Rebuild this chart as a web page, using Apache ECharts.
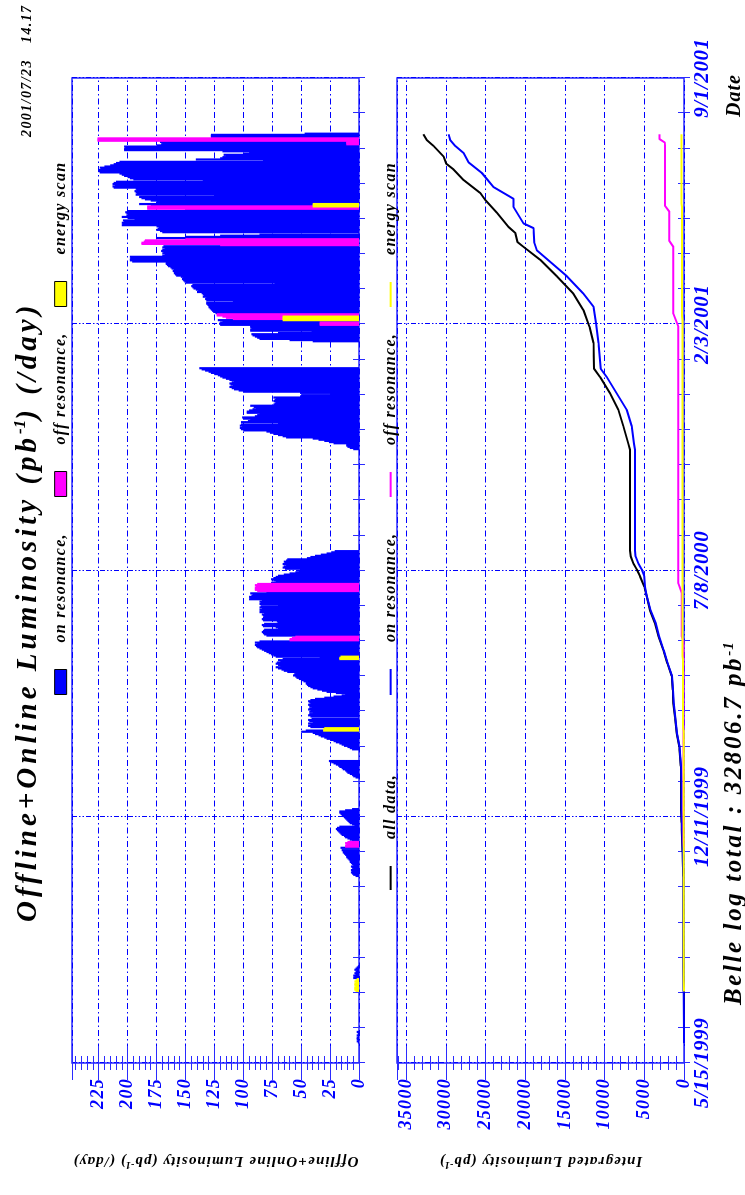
<!DOCTYPE html>
<html>
<head>
<meta charset="utf-8">
<title>Belle luminosity</title>
<script src="https://cdn.jsdelivr.net/npm/echarts/dist/echarts.min.js"></script>
<style>
  html, body { margin: 0; padding: 0; background: #fff; overflow: hidden; width: 745px; height: 1195px; }
  /* the plot is laid out landscape and turned a quarter turn to stand upright */
  #chart { position: absolute; left: 0; top: 0; width: 1195px; height: 745px;
           transform-origin: 0 0; transform: translate(0px, 1195px) rotate(-90deg); }
</style>
</head>
<body>
<div id="chart"></div>
<script>
// ---- date axis: days since 5/15/1999, labelled every 210 days ----
const dateTicks = ['5/15/1999', '12/11/1999', '7/8/2000', '2/3/2001', '9/1/2001'];
const dayStep = 210;

// ---- daily luminosity, on resonance (pb^-1 / day); each run starts at the given day ----
const onResStarts = [17, 72, 159, 243, 267, 523, 614];
const onResRuns = [
  [1, 2, 1, 2, 2, 1, 2, 1, 1, 2],
  [5, 4, 5, 3, 4, 3, 2, 4, 3, 2, 1],
  [3, 5, 6, 7, 6, 7, 5, 6, 7,
   5, 6, 7, 8, 8, 9, 10, 11, 11, 12, 13, 14,
   14, 15, 0, 16,
   0, 0, 0, 0, 0,
   6,
   8, 10, 12, 13, 15, 16, 17, 18, 19, 20, 19, 17,
   4, 6, 8, 9, 10, 11, 12, 13, 14, 15, 16, 17, 17, 12, 6],
  [3, 5, 6, 8, 10, 11, 12, 14, 15, 17, 18, 20, 22, 24, 26],
  [6, 8, 10, 13, 15, 17, 20, 22, 25, 28, 30, 33, 35, 38,
   40, 50, 46, 30, 28, 42, 44,
   42, 44, 40, 43, 44, 41, 0, 42, 44, 43, 40,
   43, 42, 44, 43, 41, 43, 44, 42, 43, 44, 42,
   38, 30, 22, 15, 12, 20, 28, 32, 36, 40, 42, 44, 45, 46,
   46, 48, 50, 52, 54, 55, 57, 56, 55,
   62, 65, 67, 70, 72, 68, 70, 72, 71,
   68, 70, 66, 34, 72,
   74, 76, 78, 80, 82, 84, 86, 88, 89,
   90, 88, 90, 86,
   0, 0, 0, 0,
   80, 82, 83, 84, 83, 82, 70, 72, 83, 84, 82, 70, 71, 83, 84, 83, 82, 83, 84, 82,
   86, 85, 86, 84, 86, 85, 70, 86, 85, 86, 84,
   95, 94, 95, 93, 92, 94,
   80, 78, 75, 74, 72, 73, 74, 75, 76, 72, 74, 76,
   74, 72, 70, 65, 60, 55, 52, 51,
   64, 66, 65, 63, 66, 64, 65, 63, 62,
   45, 42, 38, 33, 28, 24, 21],
  [5, 8, 10, 11, 11,
   22, 26, 30, 35, 40,
   63, 66, 70, 74, 77, 80,
   100, 102, 103, 101, 103, 102, 70,
   102, 96, 94, 100, 101, 90, 88, 86, 97,
   97, 95, 92, 89, 91, 94,
   74, 73, 72, 74, 73, 72, 74,
   51, 50, 25, 51,
   100, 104, 108, 110, 112, 109, 111, 112, 110, 108, 112,
   115, 118, 120, 122, 125, 128, 130, 133, 136, 138],
  [0, 40, 60,
   86, 88, 90, 92, 93, 70,
   41,
   94, 94, 93, 94, 94,
   120, 121, 120, 118, 122,
   0, 0, 0, 0, 0,
   124,
   126, 127, 128, 129, 130, 130, 131,
   132, 132, 109, 132, 133, 132,
   135, 134, 135, 136,
   140, 139, 141,
   143, 144, 145, 144,
   73,
   150, 151, 152, 153, 152, 154,
   158, 159, 160, 160, 161, 160,
   162, 163, 165, 166, 167, 167,
   196, 198, 198, 197, 198,
   170, 168, 170, 169, 171, 170, 168, 170, 169,
   0, 0, 0, 0, 0, 0,
   175, 150, 120, 86,
   0,
   170, 172, 175, 174, 173, 175,
   205, 204, 205, 203, 204, 194, 200, 205,
   201, 200, 201, 202, 200,
   150, 0, 0, 0, 180,
   190, 175,
   175, 180, 185, 188, 190,
   125,
   193, 192, 193, 194, 192, 193,
   212, 213, 211, 213, 212, 210,
   135,
   195, 198, 200, 203, 205, 207,
   224, 225, 225, 223, 224, 220, 215, 212, 210, 207,
   83, 141, 120, 118, 115, 117, 100, 95, 118,
   203, 203, 202, 203, 175,
   171, 170, 172,
   0, 0, 0,
   128, 128, 128, 47]
];

// ---- daily luminosity, off resonance: [day, pb^-1] ----
const offResDaily = [
  [184, 12], [185, 12], [186, 11], [187, 12], [188, 10],
  [360, 60], [361, 60], [362, 58], [363, 55],
  [402, 88], [403, 90], [404, 90], [405, 90], [406, 89], [407, 90], [408, 88],
  [629, 34], [630, 34], [631, 34],
  [634, 109], [635, 115], [636, 118], [637, 123], [638, 123],
  [697, 120], [698, 188], [699, 188], [700, 186], [701, 185], [702, 150],
  [728, 183], [729, 183], [730, 183],
  [783, 11], [784, 11], [785, 11], [786, 226], [787, 226], [788, 226]
];

// ---- daily luminosity, energy scan: [day, pb^-1] ----
const scanDaily = [
  [61, 3], [62, 4], [63, 4], [64, 4], [65, 3], [66, 4], [67, 4], [68, 3], [69, 4], [70, 3], [71, 2],
  [283, 31], [284, 31], [285, 30],
  [344, 17], [345, 17], [346, 16],
  [633, 66], [634, 66], [635, 66], [636, 66],
  [730, 40], [731, 40], [732, 40]
];

// ---- integrated luminosity (pb^-1) at the given day ----
const intAll = [
  [17, 0], [26, 15], [61, 20], [82, 60], [159, 80], [180, 180], [205, 300], [216, 377],
  [238, 377], [253, 420], [270, 587], [281, 920], [295, 1130], [307, 1340], [318, 1425],
  [330, 1550], [341, 2100], [352, 2600], [364, 3230], [375, 3650], [386, 4280], [398, 4700],
  [406, 4990], [415, 5535], [421, 5950], [426, 6370], [432, 6700], [437, 6790], [523, 6790],
  [528, 7000], [543, 7630], [557, 8260], [571, 9310], [585, 10570], [592, 11320], [614, 11400],
  [628, 11910], [642, 12660], [656, 13920], [671, 16020], [685, 18110], [696, 20210],
  [700, 20960], [708, 21260], [713, 22100], [725, 23560], [736, 25030], [742, 25660],
  [753, 27760], [762, 29015], [767, 29940], [773, 30270], [782, 31530], [787, 32370],
  [792, 32806.7]
];
const intOnRes = [
  [17, 0], [26, 15], [82, 50], [159, 60], [216, 330], [238, 330], [253, 380], [270, 560],
  [281, 880], [295, 1100], [307, 1300], [318, 1400], [330, 1520], [341, 2060], [352, 2560],
  [364, 3150], [375, 3560], [386, 4200], [398, 4700], [406, 4905], [415, 4990], [421, 5325],
  [426, 5740], [432, 6100], [437, 6160], [523, 6160], [528, 6290], [543, 6580], [557, 7210],
  [571, 8470], [585, 9730], [592, 10480], [614, 10780], [631, 11070], [645, 11400],
  [656, 12660], [671, 14760], [693, 18530], [700, 18870], [712, 18950], [716, 20210],
  [730, 21470], [737, 21470], [747, 23980], [759, 25450], [768, 27130], [776, 27760],
  [782, 28800], [787, 29430], [792, 29640]
];
const intOffRes = [
  [183, 0], [189, 50], [359, 50], [364, 290], [401, 290], [409, 710], [628, 710],
  [639, 1340], [696, 1340], [701, 1845], [726, 1845], [731, 2390], [782, 2390],
  [785, 2420], [788, 3100], [792, 3100]
];
const intScan = [
  [61, 0], [71, 37], [283, 37], [286, 130], [344, 130], [347, 180], [633, 180],
  [637, 260], [730, 260], [733, 300], [792, 300]
];

// ---- value axis ranges ----
const dailyMax = 248, dailyStep = 25;
const intMax = 36140, intStep = 5000;

// ---- build the bar data (one bar per day, centred in its day) ----
const onResBars = [];
onResStarts.forEach((s, i) => onResRuns[i].forEach((v, k) => onResBars.push([s + k + 0.5, v])));
const offResBars = offResDaily.map(d => [d[0] + 0.5, d[1]]);
const scanBars = scanDaily.map(d => [d[0] + 0.5, d[1]]);

// Wide, loosely tracked lettering: extra letter spacing per font size (px).
const letterGap = { 29: 4.0, 25: 2.6, 21: 0.6, 20: 1.0, 18: 1.3, 16: 1.3, 15: 1.1, 14: 1.4 };
(function () {
  const proto = window.CanvasRenderingContext2D && CanvasRenderingContext2D.prototype;
  if (!proto || !('letterSpacing' in proto)) return;
  const spaced = fn => function () {
    const m = /(\d+(?:\.\d+)?)px/.exec(this.font || '');
    const gap = m ? letterGap[Math.round(parseFloat(m[1]))] : 0;
    this.letterSpacing = (gap || 0) + 'px';
    return fn.apply(this, arguments);
  };
  proto.fillText = spaced(proto.fillText);
  proto.strokeText = spaced(proto.strokeText);
  proto.measureText = spaced(proto.measureText);
})();

const FONT = "'Liberation Serif', 'Times New Roman', serif";
const BLUE = '#0000ff';
const FRAME = '#2b2bff';
const MAGENTA = '#ff00ff';
const YELLOW = '#ffff00';

const labelStyle = { color: BLUE, fontFamily: FONT, fontStyle: 'italic', fontWeight: 'bold' };
const blackText = { color: '#000', fontFamily: FONT, fontStyle: 'italic', fontWeight: 'bold' };
const supStyle = (size) => ({ color: '#000', fontFamily: FONT, fontStyle: 'italic', fontWeight: 'bold',
                               fontSize: size, verticalAlign: 'top' });

function dateAxis(gridIndex, position, withLabels) {
  return {
    type: 'value', gridIndex, position, min: 0, max: dayStep * 4, interval: dayStep,
    axisLine: { show: false },
    axisTick: { show: true, inside: true, length: 6, lineStyle: { color: FRAME, width: 1 } },
    minorTick: { show: true, splitNumber: 7, length: 6, lineStyle: { color: FRAME, width: 1 } },
    splitLine: { show: position === 'bottom',
                 lineStyle: { color: BLUE, width: 1, type: [5, 2, 1.5, 2, 1.5, 2] } },
    axisLabel: { show: withLabels, margin: 8, fontSize: 21, ...labelStyle,
                 formatter: v => dateTicks[Math.round(v / dayStep)] }
  };
}

function valueAxis(gridIndex, position, max, step, name, nameGap) {
  const left = position === 'left';
  return {
    type: 'value', gridIndex, position, min: 0, max, interval: step,
    axisLine: { show: false },
    axisTick: { show: true, inside: true, length: 17, lineStyle: { color: FRAME, width: 1 } },
    minorTick: { show: true, splitNumber: 5, length: 7, lineStyle: { color: FRAME, width: 1 } },
    splitLine: { show: left, lineStyle: { color: BLUE, width: 1, type: [6, 3, 1.5, 3] } },
    axisLabel: { show: left, margin: 15, fontSize: 18, showMaxLabel: false, ...labelStyle,
                 formatter: v => String(v) },
    name: left ? name : '',
    nameLocation: 'middle', nameGap, nameRotate: 90,
    nameTextStyle: { ...blackText, fontSize: 15, rich: { sup: supStyle(10) } }
  };
}

function legendItem(name, left, top, w, h, framed) {
  return {
    data: [name], left, top, itemWidth: w, itemHeight: h, icon: 'rect',
    selectedMode: false, padding: 0,
    itemStyle: framed ? { borderColor: '#000', borderWidth: 1 } : { borderWidth: 0 },
    textStyle: { ...blackText, fontSize: 16, padding: [0, 0, 0, 22] }
  };
}

const option = {
  animation: false,
  backgroundColor: '#fff',
  textStyle: { fontFamily: FONT },
  title: [
    { text: 'Offline+Online Luminosity (pb{sup|-1}) (/day)', left: 268, top: 7,
      textStyle: { ...blackText, fontSize: 29, rich: { sup: supStyle(17) } } },
    { text: '2001/07/23', left: 1053, top: 15, textStyle: { ...blackText, fontSize: 14 } },
    { text: '14.17', left: 1147, top: 15, textStyle: { ...blackText, fontSize: 14 } },
    { text: 'Belle log total : 32806.7 pb{sup|-1}', left: 185, top: 716,
      textStyle: { ...blackText, fontSize: 25, rich: { sup: supStyle(15) } } },
    { text: 'Date', left: 1073, top: 719, textStyle: { ...blackText, fontSize: 20 } }
  ],
  legend: [
    legendItem('on resonance,', 500, 52, 25, 12, true),
    legendItem('off resonance,', 698, 52, 25, 12, true),
    legendItem('energy scan', 888, 52, 25, 12, true),
    legendItem('all data,', 305, 382, 24, 2, false),
    legendItem('on resonance,', 500, 382, 26, 2, false),
    legendItem('off resonance,', 698, 382, 25, 2, false),
    legendItem('energy scan', 888, 382, 25, 2, false)
  ],
  grid: [
    { left: 132, top: 72, width: 985, height: 287, show: true, borderColor: FRAME, borderWidth: 1.5,
      backgroundColor: 'transparent', outerBoundsMode: 'none' },
    { left: 132, top: 397, width: 985, height: 287, show: true, borderColor: FRAME, borderWidth: 1.5,
      backgroundColor: 'transparent', outerBoundsMode: 'none' }
  ],
  xAxis: [
    dateAxis(0, 'bottom', false),
    dateAxis(0, 'top', false),
    dateAxis(1, 'bottom', true),
    dateAxis(1, 'top', false)
  ],
  yAxis: [
    valueAxis(0, 'left', dailyMax, dailyStep, 'Offline+Online Luminosity (pb{sup|-1}) (/day)', 90),
    valueAxis(0, 'right', dailyMax, dailyStep, '', 0),
    valueAxis(1, 'left', intMax, intStep, 'Integrated Luminosity (pb{sup|-1})', 90),
    valueAxis(1, 'right', intMax, intStep, '', 0)
  ],
  series: [
    { name: 'on resonance,', type: 'bar', xAxisIndex: 0, yAxisIndex: 0, data: onResBars,
      barWidth: 2.2, barGap: '-100%', itemStyle: { color: BLUE } },
    { name: 'off resonance,', type: 'bar', xAxisIndex: 0, yAxisIndex: 0, data: offResBars,
      barWidth: 2.2, barGap: '-100%', itemStyle: { color: MAGENTA } },
    { name: 'energy scan', type: 'bar', xAxisIndex: 0, yAxisIndex: 0, data: scanBars,
      barWidth: 2.2, barGap: '-100%', itemStyle: { color: YELLOW } },
    { name: 'all data,', type: 'line', xAxisIndex: 2, yAxisIndex: 2, data: intAll,
      showSymbol: false, color: '#000', lineStyle: { color: '#000', width: 2 } },
    { name: 'on resonance,', type: 'line', xAxisIndex: 2, yAxisIndex: 2, data: intOnRes,
      showSymbol: false, color: BLUE, lineStyle: { color: BLUE, width: 2 } },
    { name: 'off resonance,', type: 'line', xAxisIndex: 2, yAxisIndex: 2, data: intOffRes,
      showSymbol: false, color: MAGENTA, lineStyle: { color: MAGENTA, width: 2 } },
    { name: 'energy scan', type: 'line', xAxisIndex: 2, yAxisIndex: 2, data: intScan,
      showSymbol: false, color: YELLOW, lineStyle: { color: YELLOW, width: 2 } }
  ]
};

const chart = echarts.init(document.getElementById('chart'), null, { renderer: 'canvas', width: 1195, height: 745 });
chart.setOption(option);
</script>
</body>
</html>
